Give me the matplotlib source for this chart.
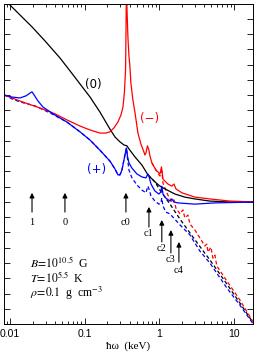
import numpy as np
import matplotlib
matplotlib.use('Agg')
import matplotlib.pyplot as plt
from matplotlib.ticker import FixedLocator, MultipleLocator, NullFormatter, FuncFormatter

plt.rcParams['mathtext.fontset'] = 'stix'
plt.rcParams['font.family'] = ['Liberation Serif', 'DejaVu Serif']

# ---- mode (0): total and absorption (keV, log opacity, arbitrary units)
e_0 = [0.0094, 0.0136, 0.0197, 0.0294, 0.0467, 0.0635, 0.0788, 0.118, 0.160, 0.218,
       0.255, 0.297, 0.336, 0.368, 0.392, 0.471, 0.585, 0.703, 0.873, 1.02,
       1.19, 1.62, 2.20, 3.00, 4.76, 8.81, 19.6]
k_0 = [10.52, 10.13, 9.74, 9.28, 8.72, 8.30, 8.00, 7.44, 6.95, 6.39,
       6.13, 5.97, 5.87, 5.84, 5.74, 5.48, 5.21, 4.89, 4.66, 4.52,
       4.43, 4.26, 4.16, 4.10, 4.03, 4.00, 4.00]
e_0abs = [0.703, 0.873, 1.02, 1.39, 1.89, 2.82, 4.76, 8.04, 12.0, 18.5]
k_0abs = [4.89, 4.66, 4.39, 3.93, 3.44, 2.85, 2.10, 1.31, 0.69, 0.0]

# ---- mode (+)
e_p = [0.00831, 0.0106, 0.0136, 0.0164, 0.0185, 0.0197, 0.0210, 0.0237, 0.0277, 0.0400,
       0.0579, 0.0865, 0.118, 0.160, 0.218, 0.255, 0.279, 0.297, 0.316, 0.336,
       0.353, 0.363, 0.374, 0.392, 0.430, 0.501, 0.585, 0.662, 0.703, 0.726,
       0.773, 0.873, 0.988, 1.05, 1.08, 1.12, 1.22, 1.39, 1.47, 1.57,
       1.77, 3.00, 5.55, 19.6]
k_p = [7.51, 7.44, 7.41, 7.48, 7.57, 7.61, 7.51, 7.31, 7.11, 6.85,
       6.62, 6.30, 6.03, 5.70, 5.34, 5.08, 4.89, 4.89, 5.05, 5.38,
       5.64, 5.77, 5.51, 5.28, 5.11, 4.92, 4.82, 4.79, 4.92, 4.85,
       4.59, 4.36, 4.26, 4.33, 4.52, 4.26, 4.13, 4.03, 4.10, 4.00,
       3.97, 3.93, 3.97, 4.00]
e_pabs = [0.00831, 0.0106, 0.0136, 0.0216, 0.0343, 0.0579, 0.0865, 0.118, 0.160, 0.218,
          0.255, 0.279, 0.297, 0.316, 0.336, 0.353, 0.363, 0.374, 0.392, 0.430,
          0.501, 0.585, 0.662, 0.703, 0.726, 0.773, 0.873, 0.988, 1.05, 1.08,
          1.12, 1.22, 1.39, 1.89, 2.57, 3.50, 4.76, 8.04, 12.0, 18.5]
k_pabs = [7.51, 7.38, 7.28, 7.15, 6.92, 6.62, 6.30, 6.03, 5.70, 5.34,
          5.08, 4.89, 4.89, 5.05, 5.38, 5.64, 5.77, 5.44, 5.05, 4.79,
          4.56, 4.39, 4.30, 4.52, 4.43, 4.20, 4.03, 3.93, 3.97, 4.13,
          3.87, 3.67, 3.61, 3.25, 2.92, 2.39, 2.00, 1.18, 0.62, -0.03]

# ---- mode (-)
e_m = [0.00831, 0.0136, 0.0252, 0.0400, 0.0579, 0.0865, 0.118, 0.160, 0.193, 0.218,
       0.247, 0.279, 0.306, 0.326, 0.341, 0.353, 0.358, 0.364, 0.369, 0.380,
       0.392, 0.404, 0.416, 0.443, 0.471, 0.517, 0.567, 0.622, 0.641, 0.662,
       0.693, 0.726, 0.748, 0.796, 0.900, 1.02, 1.07, 1.12, 1.30, 1.47,
       1.57, 1.67, 2.01, 3.00, 4.76, 8.81, 19.6]
k_m = [7.51, 7.31, 7.08, 6.89, 6.69, 6.49, 6.36, 6.26, 6.26, 6.30,
       6.43, 6.62, 6.85, 7.11, 7.61, 8.33, 9.64, 11.6, 10.30, 9.38,
       8.79, 8.43, 7.90, 7.34, 6.95, 6.26, 5.90, 5.64, 5.54, 5.61,
       5.84, 5.70, 5.51, 5.28, 5.05, 4.92, 5.15, 4.75, 4.59, 4.52,
       4.59, 4.43, 4.30, 4.16, 4.10, 4.03, 4.00]
e_mabs = [0.796, 0.900, 1.02, 1.08, 1.12, 1.30, 1.47, 1.57, 1.67, 1.89,
          2.07, 2.20, 2.42, 2.57, 3.00, 3.50, 4.07, 4.33, 4.48, 4.91,
          5.22, 5.55, 5.90, 8.04, 12.0, 18.5]
k_mabs = [5.28, 5.05, 4.85, 5.02, 4.62, 4.23, 4.00, 4.07, 3.80, 3.61,
          3.74, 3.48, 3.57, 3.28, 3.08, 2.82, 2.56, 2.62, 2.36, 2.52,
          2.16, 2.26, 1.90, 1.41, 0.79, 0.03]

# arrows: energy, label, tip, tail, label y
arr_e = [0.0197, 0.0544, 0.357, 0.726, 1.08, 1.43, 1.83]
arr_lab = ['1', '0', 'c0', 'c1', 'c2', 'c3', 'c4']
arr_tip = [4.30, 4.30, 4.30, 3.84, 3.41, 3.08, 2.69]
arr_tail = [3.67, 3.67, 3.67, 3.18, 2.69, 2.33, 2.03]
arr_ty = [3.34, 3.34, 3.34, 2.98, 2.49, 2.10, 1.77]

fig = plt.figure(figsize=(2.56, 3.57), dpi=100)
ax = fig.add_axes([0.0156, 0.0924, 0.9727, 0.8964])

lw = 0.9
ax.plot(e_0abs, k_0abs, color='k', lw=lw, ls=(0, (3, 2)))
ax.plot(e_mabs, k_mabs, color='red', lw=lw, ls=(0, (3, 2)))
ax.plot(e_pabs, k_pabs, color='blue', lw=lw, ls=(0, (3, 2)))
ax.plot(e_0, k_0, color='k', lw=lw)
ax.plot(e_m, k_m, color='red', lw=lw)
ax.plot(e_p, k_p, color='blue', lw=lw)

ax.text(0.129, 7.84, '(0)', color='k', fontsize=8.5, ha='center', va='center', family='DejaVu Sans')
ax.text(0.748, 6.75, '(\u2212)', color='red', fontsize=8.5, ha='center', va='center', family='DejaVu Sans')
ax.text(0.146, 5.05, '(+)', color='blue', fontsize=8.5, ha='center', va='center', family='DejaVu Sans')

for e, lab, t0, t1, ty in zip(arr_e, arr_lab, arr_tip, arr_tail, arr_ty):
    ax.annotate('', xy=(e, t0), xytext=(e, t1),
                arrowprops=dict(arrowstyle='-|>', color='k', lw=0.8, mutation_scale=7, shrinkA=0, shrinkB=0))
    ax.text(e, ty, lab, fontsize=7.5, ha='center', va='center')

ax.text(0.0185, 2.0, r'$B\!=\!10^{10.5}$  G', fontsize=8.5, va='center')
ax.text(0.0185, 1.51, r'$T\!=\!10^{5.5}$  K', fontsize=8.5, va='center')
ax.text(0.0185, 1.02, r'$\rho\!=\!0.1$  g  cm$^{-3}$', fontsize=8.5, va='center')

ax.set_xscale('log')
ax.set_xlim(0.0083, 18)
ax.set_ylim(0, 10.49)
ax.xaxis.set_major_formatter(FuncFormatter(lambda v, p: '%g' % v))
ax.xaxis.set_minor_formatter(NullFormatter())
ax.yaxis.set_major_locator(MultipleLocator(0.5))
ax.yaxis.set_major_formatter(NullFormatter())
ax.tick_params(which='both', direction='in', top=True, right=True, width=0.6, labelsize=7.5)
ax.tick_params(which='major', length=4)
ax.tick_params(which='minor', length=2.5)
for lbl in ax.get_xticklabels():
    lbl.set_family('Liberation Sans')
for s in ax.spines.values():
    s.set_linewidth(0.7)
ax.set_xlabel('\u0127\u03c9  (keV)', fontsize=8, labelpad=2)

fig.savefig('out.png', dpi=100)
